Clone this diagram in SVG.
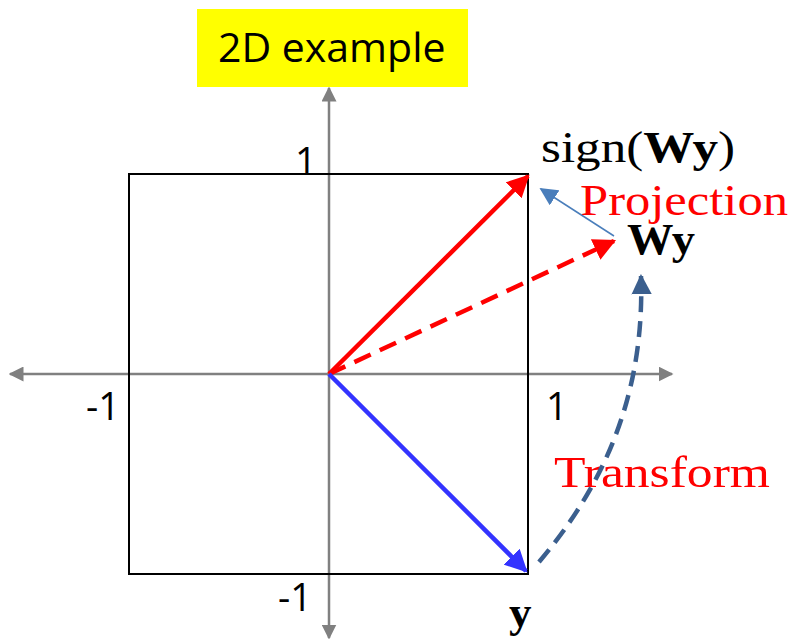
<svg xmlns="http://www.w3.org/2000/svg" width="793" height="639" viewBox="0 0 793 639">
<style>
.ax{stroke:#808080;stroke-width:2.5;fill:none}
.sans{font-family:"Open Sans","Liberation Sans",sans-serif;fill:#000}
.serif{font-family:"Liberation Serif","DejaVu Serif",serif;font-size:45px}
</style>
<defs>
<marker id="ga" viewBox="0 0 10 10" refX="9" refY="5" markerWidth="6" markerHeight="6" markerUnits="strokeWidth" orient="auto"><path d="M0,0L10,5L0,10z" fill="#808080"/></marker>
<marker id="ra" viewBox="0 0 10 10" refX="9" refY="5" markerWidth="5" markerHeight="5" markerUnits="strokeWidth" orient="auto"><path d="M0,0L10,5L0,10z" fill="#ff0000"/></marker>
<marker id="ba" viewBox="0 0 10 10" refX="9" refY="5" markerWidth="5" markerHeight="5" markerUnits="strokeWidth" orient="auto"><path d="M0,0L10,5L0,10z" fill="#3333ff"/></marker>
<marker id="sa" viewBox="0 0 10 10" refX="9" refY="5" markerWidth="12" markerHeight="12" markerUnits="strokeWidth" orient="auto"><path d="M0,0L10,5L0,10z" fill="#4a7ebb"/></marker>
<marker id="da" viewBox="0 0 10 10" refX="9" refY="5" markerWidth="4.5" markerHeight="4.5" markerUnits="strokeWidth" orient="auto"><path d="M0,0L10,5L0,10z" fill="#3b5f8e"/></marker>
</defs>
<g id="title">
<rect x="197" y="9" width="271" height="78" fill="#ffff00"/>
<text x="218" y="62" class="sans" font-size="41">2D example</text>
</g>
<g id="axes">
<line x1="328" y1="374" x2="10" y2="374" class="ax" marker-end="url(#ga)"/>
<line x1="330" y1="374" x2="672" y2="374" class="ax" marker-end="url(#ga)"/>
<line x1="329" y1="374" x2="329" y2="88" class="ax" marker-end="url(#ga)"/>
<line x1="329" y1="374" x2="329" y2="638" class="ax" marker-end="url(#ga)"/>
</g>
<g id="square">
<rect x="129" y="174" width="399" height="400" fill="none" stroke="#000" stroke-width="2"/>
</g>
<g id="labels">
<text x="295" y="175" class="sans" font-size="38">1</text>
<text x="86" y="420" class="sans" font-size="38">-1</text>
<text x="546" y="420" class="sans" font-size="38">1</text>
<text x="278" y="611" class="sans" font-size="38">-1</text>
<text x="541" y="162" class="serif" textLength="194" lengthAdjust="spacingAndGlyphs">sign(<tspan font-weight="bold">Wy</tspan>)</text>
<text x="580" y="215" class="serif" fill="#ff0000" textLength="208" lengthAdjust="spacingAndGlyphs">Projection</text>
<text x="627" y="254" class="serif" font-weight="bold" textLength="68" lengthAdjust="spacingAndGlyphs">Wy</text>
<text x="554" y="487" class="serif" fill="#ff0000" textLength="216" lengthAdjust="spacingAndGlyphs">Transform</text>
<text x="509" y="627" class="serif" font-weight="bold">y</text>
</g>
<g id="connectors">
<line x1="329" y1="374" x2="528" y2="176" stroke="#ff0000" stroke-width="4.5" marker-end="url(#ra)"/>
<line x1="329" y1="374" x2="614" y2="241" stroke="#ff0000" stroke-width="4.5" stroke-dasharray="18,10" marker-end="url(#ra)"/>
<line x1="329" y1="374" x2="526" y2="571" stroke="#3333ff" stroke-width="4.5" marker-end="url(#ba)"/>
<line x1="614" y1="236" x2="541" y2="189" stroke="#4a7ebb" stroke-width="1.5" marker-end="url(#sa)"/>
<path d="M539,562 C600,490 645,400 641,276" fill="none" stroke="#3b5f8e" stroke-width="4.5" stroke-dasharray="16,9" marker-end="url(#da)"/>
</g>
</svg>
